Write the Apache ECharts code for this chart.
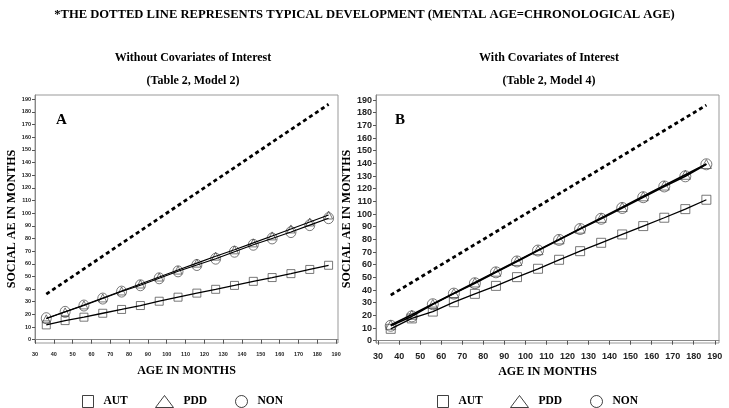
<!DOCTYPE html>
<html>
<head>
<meta charset="utf-8">
<script src="https://cdn.jsdelivr.net/npm/echarts@6/dist/echarts.min.js"></script>
<style>html,body{margin:0;padding:0;background:#fff}#c{width:729px;height:408px}</style>
</head>
<body>
<div id="c"></div>
<script>
// ---- data ----
const ages = [36, 46, 56, 66, 76, 86, 96, 106, 116, 126, 136, 146, 156, 166, 176, 186];
const typicalDev = [36, 46, 56, 66, 76, 86, 96, 106, 116, 126, 136, 146, 156, 166, 176, 186];
// Panel A: without covariates (Table 2, Model 2)
const autA = [11.7, 15.1, 17.8, 20.9, 23.9, 27.0, 30.4, 33.6, 36.8, 39.8, 42.9, 46.1, 49.1, 52.2, 55.5, 58.8];
const pddA = [16.5, 22, 27.5, 33, 38.5, 44, 49.5, 55, 60.5, 66, 71, 76.5, 82, 87.5, 93, 98.5];
const nonA = [17, 22, 27, 32.5, 38, 43, 48.5, 54, 59, 64, 69.5, 75, 80, 85, 90.5, 96];
// Panel B: with covariates (Table 2, Model 4)
const autB = [9.4, 17.6, 23, 30.4, 37, 43.3, 50.2, 56.8, 63.9, 70.7, 77.3, 83.9, 90.5, 97.1, 103.9, 111.3];
const pddB = [12.5, 20.5, 29, 37.5, 46, 54.5, 63, 71.5, 80, 88.5, 97, 105.5, 114, 122.5, 131, 139.5];
const nonB = [11.8, 19.2, 28.8, 37.2, 45.4, 54, 62.6, 71.2, 79.6, 88.2, 96.3, 104.8, 113.3, 121.8, 129.8, 139.3];
const xTicks = [30, 40, 50, 60, 70, 80, 90, 100, 110, 120, 130, 140, 150, 160, 170, 180, 190];
const yTicks = [0, 10, 20, 30, 40, 50, 60, 70, 80, 90, 100, 110, 120, 130, 140, 150, 160, 170, 180, 190];
const groups = ['AUT', 'PDD', 'NON'];
const mainTitle = '*THE DOTTED LINE REPRESENTS TYPICAL DEVELOPMENT (MENTAL AGE=CHRONOLOGICAL AGE)';

const pairs = (xs, ys) => xs.map((x, i) => [x, ys[i]]);
const serif = '"Liberation Serif", "Times New Roman", serif';
const sans = '"Liberation Sans", Arial, sans-serif';

function axisPair(gi, small) {
  const fs = small ? 5.5 : 9;
  const x = {
    type: 'value', gridIndex: gi, min: small ? 30 : 29, max: small ? 191 : 192,
    name: 'AGE IN MONTHS', nameLocation: 'middle', nameGap: 22,
    nameTextStyle: {fontFamily: serif, fontWeight: 'bold', fontSize: 12, color: '#000'},
    axisLine: {show: true, lineStyle: {color: '#888', width: 1}},
    axisTick: {show: true, length: 4, customValues: xTicks, lineStyle: {color: '#555'}},
    axisLabel: {customValues: xTicks, fontSize: fs, fontFamily: sans, fontWeight: 'bold', color: '#222', margin: small ? 8 : 9},
    splitLine: {show: false}
  };
  const y = {
    type: 'value', gridIndex: gi, min: small ? -2.6 : -1.8, max: small ? 193.3 : 194,
    name: 'SOCIAL AE IN MONTHS', nameLocation: 'middle', nameGap: small ? 16 : 18,
    nameTextStyle: {fontFamily: serif, fontWeight: 'bold', fontSize: 12, color: '#000'},
    axisLine: {show: true, lineStyle: {color: '#888', width: 1}},
    axisTick: {show: true, length: 3, customValues: yTicks, lineStyle: {color: '#555'}},
    axisLabel: {customValues: yTicks, fontSize: fs, fontFamily: sans, fontWeight: 'bold', color: '#222', margin: 4},
    splitLine: {show: false}
  };
  return [x, y];
}
const [xA, yA] = axisPair(0, true);
const [xB, yB] = axisPair(1, false);

function panelSeries(gi, aut, pdd, non, big) {
  const s = [];
  s.push({type: 'line', name: 'Typical', xAxisIndex: gi, yAxisIndex: gi, data: pairs(ages, typicalDev),
    showSymbol: false, silent: true, lineStyle: {color: '#000', width: 2.8, type: [4, 3.2]}});
  s.push({type: 'line', name: 'AUT fit', xAxisIndex: gi, yAxisIndex: gi, data: pairs(ages, aut),
    showSymbol: false, lineStyle: {color: '#000', width: 1.3}});
  s.push({type: 'line', name: 'PDD fit', xAxisIndex: gi, yAxisIndex: gi, data: pairs(ages, pdd),
    showSymbol: false, lineStyle: {color: '#000', width: big ? 1.6 : 1.1}});
  s.push({type: 'line', name: 'NON fit', xAxisIndex: gi, yAxisIndex: gi, data: pairs(ages, non),
    showSymbol: false, lineStyle: {color: '#000', width: big ? 1.6 : 1.1}});
  const st = {color: 'rgba(255,255,255,0)', borderColor: '#444', borderWidth: 0.9};
  s.push({type: 'scatter', name: 'AUT', xAxisIndex: gi, yAxisIndex: gi, data: pairs(ages, aut),
    symbol: 'rect', symbolSize: big ? 9 : 8, itemStyle: st});
  s.push({type: 'scatter', name: 'PDD', xAxisIndex: gi, yAxisIndex: gi, data: pairs(ages, pdd),
    symbol: 'triangle', symbolSize: big ? [10, 9] : [8, 8], itemStyle: st});
  s.push({type: 'scatter', name: 'NON', xAxisIndex: gi, yAxisIndex: gi, data: pairs(ages, non),
    symbol: 'circle', symbolSize: big ? [11, 11] : [10, 11], itemStyle: st});
  return s;
}

function legendItem(name, left, icon, w, h) {
  return {
    data: [{name: name, icon: icon}], left: left, top: 395, padding: 0,
    itemWidth: w, itemHeight: h, symbolKeepAspect: false, selectedMode: false,
    itemStyle: {color: '#fff', borderColor: '#111', borderWidth: 1},
    textStyle: {fontFamily: serif, fontWeight: 'bold', fontSize: 11.5, color: '#000', padding: [0, 0, 0, 5]}
  };
}

const option = {
  backgroundColor: '#fff',
  animation: false,
  title: [
    {text: mainTitle, left: 'center', top: 3, textStyle: {fontFamily: serif, fontWeight: 'bold', fontSize: 12.6, color: '#000'}},
    {text: 'Without Covariates of Interest', left: 188, textAlign: 'center', top: 47, textStyle: {fontFamily: serif, fontWeight: 'bold', fontSize: 12, color: '#000'}},
    {text: '(Table 2, Model 2)', left: 188, textAlign: 'center', top: 70, textStyle: {fontFamily: serif, fontWeight: 'bold', fontSize: 12, color: '#000'}},
    {text: 'With Covariates of Interest', left: 544, textAlign: 'center', top: 47, textStyle: {fontFamily: serif, fontWeight: 'bold', fontSize: 12, color: '#000'}},
    {text: '(Table 2, Model 4)', left: 544, textAlign: 'center', top: 70, textStyle: {fontFamily: serif, fontWeight: 'bold', fontSize: 12, color: '#000'}},
    {text: 'A', left: 51, top: 108, textStyle: {fontFamily: serif, fontWeight: 'bold', fontSize: 15, color: '#000'}},
    {text: 'B', left: 390, top: 108, textStyle: {fontFamily: serif, fontWeight: 'bold', fontSize: 15, color: '#000'}}
  ],
  grid: [
    {left: 35, top: 95, width: 303, height: 248, show: true, borderColor: '#999', borderWidth: 1, backgroundColor: 'transparent'},
    {left: 376, top: 95, width: 343, height: 248, show: true, borderColor: '#999', borderWidth: 1, backgroundColor: 'transparent'}
  ],
  xAxis: [xA, xB],
  yAxis: [yA, yB],
  legend: [
    legendItem('AUT', 82, 'rect', 11, 12),
    legendItem('PDD', 155, 'triangle', 18, 12),
    legendItem('NON', 235, 'circle', 12, 12),
    legendItem('AUT', 437, 'rect', 11, 12),
    legendItem('PDD', 510, 'triangle', 18, 12),
    legendItem('NON', 590, 'circle', 12, 12)
  ],
  series: [].concat(panelSeries(0, autA, pddA, nonA, false), panelSeries(1, autB, pddB, nonB, true))
};
const chart = echarts.init(document.getElementById('c'), null, {renderer: 'canvas'});
chart.setOption(option);
</script>
</body>
</html>
